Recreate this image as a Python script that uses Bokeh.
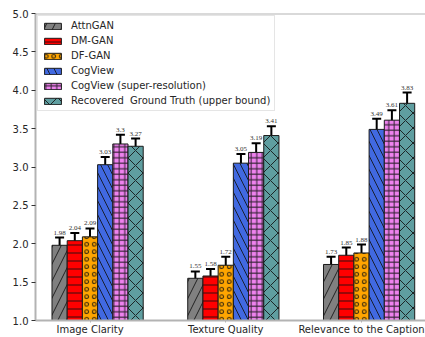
from bokeh.plotting import figure
from bokeh.models import (ColumnDataSource, FixedTicker, PrintfTickFormatter, Span,
                          Whisker, TeeHead, LabelSet, Range1d, Legend)
from bokeh.embed import file_html
from bokeh.resources import INLINE

categories = ["Image Clarity", "Texture Quality", "Relevance to the Caption"]
methods = ["AttnGAN", "DM-GAN", "DF-GAN", "CogView", "CogView (super-resolution)",
           "Recovered\u00a0 Ground Truth (upper bound)"]
values = {
    "AttnGAN": [1.98, 1.55, 1.73],
    "DM-GAN": [2.04, 1.58, 1.85],
    "DF-GAN": [2.09, 1.72, 1.88],
    "CogView": [3.03, 3.05, 3.49],
    "CogView (super-resolution)": [3.30, 3.19, 3.61],
    "Recovered\u00a0 Ground Truth (upper bound)": [3.27, 3.41, 3.83],
}
errors = {
    "AttnGAN": [0.10, 0.09, 0.10],
    "DM-GAN": [0.10, 0.09, 0.10],
    "DF-GAN": [0.11, 0.11, 0.11],
    "CogView": [0.10, 0.12, 0.14],
    "CogView (super-resolution)": [0.12, 0.12, 0.13],
    "Recovered\u00a0 Ground Truth (upper bound)": [0.10, 0.12, 0.14],
}
y_ticks = [1.0, 1.5, 2.0, 2.5, 3.0, 3.5, 4.0, 4.5, 5.0]

colors = ["#808080", "#ff0000", "#ffa500", "#4169e1", "#ee82ee", "#5f9ea0"]
hatches = ["/", "-", "o", "\\", "+", "x"]
hatch_scales = [17, 8, 7.5, 14, 5.5, 15]
bar_w = 0.112

p = figure(width=425, height=337, output_backend="svg", toolbar_location=None,
           x_range=Range1d(-0.4015, 2.4715), y_range=Range1d(1.0, 5.0),
           min_border_left=35, min_border_right=0, min_border_top=13, min_border_bottom=0)
p.outline_line_color = None
p.xgrid.visible = False
p.ygrid.visible = False
p.background_fill_color = "white"
p.border_fill_color = "white"

legend_items = []
for i, m in enumerate(methods):
    xs = [g + (i - 2) * bar_w for g in range(len(categories))]
    vals = values[m]
    errs = errors[m]
    src = ColumnDataSource(dict(
        x=xs, top=vals,
        upper=[v + e for v, e in zip(vals, errs)],
        lower=[v - e for v, e in zip(vals, errs)],
        label=[("%.2f" % v).rstrip("0").rstrip(".") for v in vals],
    ))
    r = p.vbar(x="x", top="top", bottom=1.0, width=bar_w, source=src,
               fill_color=colors[i], line_color="#1a1a1a", line_width=1,
               hatch_pattern=hatches[i], hatch_scale=hatch_scales[i],
               hatch_color="#111111", hatch_weight=1, hatch_alpha=0.85)
    legend_items.append((m, [r]))
    w = Whisker(source=src, base="x", upper="upper", lower="lower",
                line_color="black", line_width=2,
                upper_head=TeeHead(size=9, line_width=2, line_color="black"),
                lower_head=TeeHead(size=9, line_width=2, line_color="black"))
    p.add_layout(w)
    lab = LabelSet(source=src, x="x", y="upper", text="label", text_align="center",
                   text_baseline="alphabetic", y_offset=3,
                   text_font="DejaVu Sans", text_font_size="7px", text_color="#333333")
    p.add_layout(lab)

legend = Legend(items=legend_items, location="top_left",
                label_text_font="DejaVu Sans", label_text_font_size="10px",
                label_text_color="#262626", glyph_width=21, glyph_height=8,
                label_height=10, spacing=4, padding=4, margin=2, label_standoff=8,
                border_line_color="#cccccc", border_line_width=1,
                background_fill_color="white", background_fill_alpha=0.9)
p.add_layout(legend)

top_line = Span(location=5.0, dimension="width", line_color="#b3b3b3", line_width=2)
p.add_layout(top_line)

for ax in (p.xaxis, p.yaxis):
    ax.axis_line_color = "#b3b3b3"
    ax.axis_line_width = 2
    ax.major_label_text_font = "DejaVu Sans"
    ax.major_label_text_font_size = "10px"
    ax.major_label_text_color = "#262626"
    ax.minor_tick_line_color = None
    ax.major_tick_in = 0

p.yaxis.ticker = FixedTicker(ticks=y_ticks)
p.yaxis.formatter = PrintfTickFormatter(format="%.1f")
p.yaxis.major_tick_out = 4
p.yaxis.major_tick_line_color = "#333333"
p.yaxis.major_label_standoff = 3

p.xaxis.ticker = FixedTicker(ticks=list(range(len(categories))))
p.xaxis.major_label_overrides = {i: c for i, c in enumerate(categories)}
p.xaxis.major_tick_out = 2
p.xaxis.major_tick_line_color = "#b3b3b3"
p.xaxis.major_label_standoff = 1

open("out.html", "w").write(file_html(p, INLINE))
